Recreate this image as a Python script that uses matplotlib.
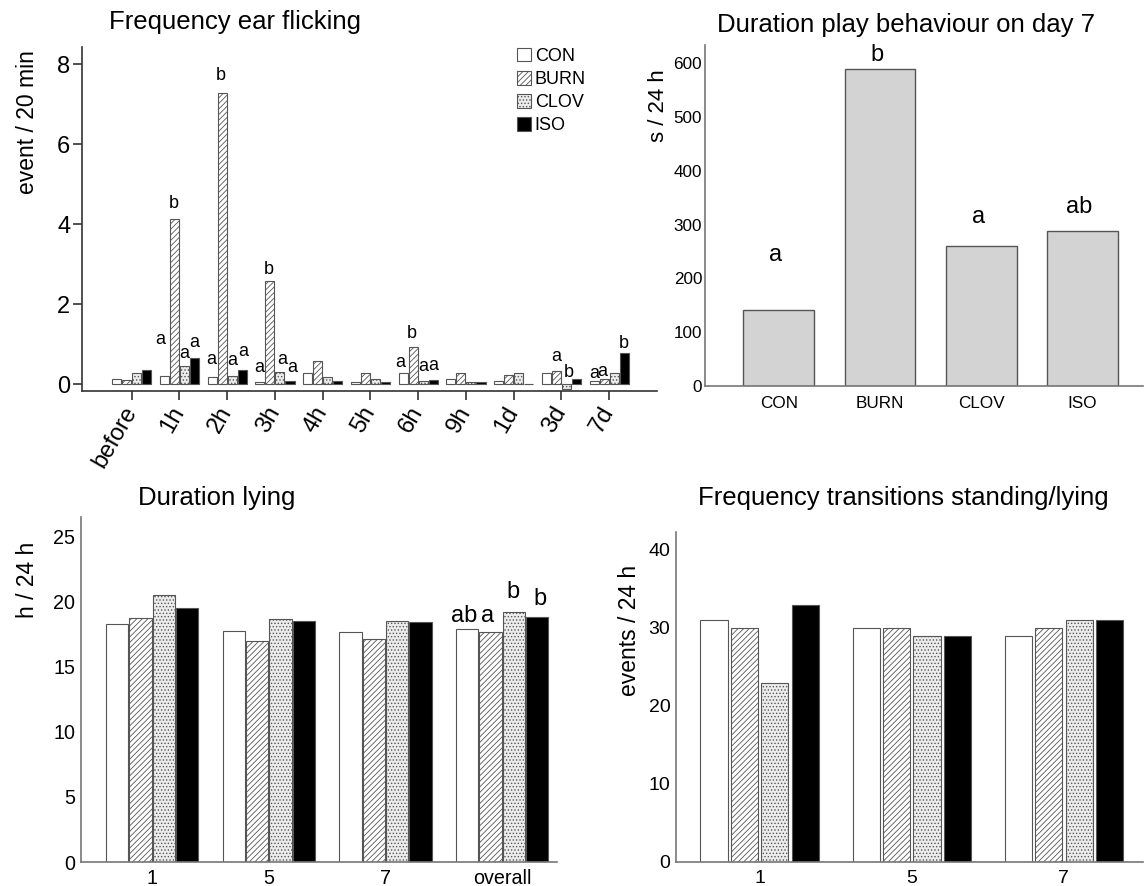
import numpy as np
import matplotlib
matplotlib.use('Agg')
import matplotlib.pyplot as plt

plt.rcParams['font.family'] = ['Liberation Sans', 'DejaVu Sans']
plt.rcParams['hatch.linewidth'] = 0.6

groups = ['CON', 'BURN', 'CLOV', 'ISO']

# ear flicking, event / 20 min
ear_times = ['before', '1h', '2h', '3h', '4h', '5h', '6h', '9h', '1d', '3d', '7d']
ear_con = [0.13, 0.21, 0.18, 0.05, 0.27, 0.05, 0.27, 0.14, 0.07, 0.27, 0.07]
ear_burn = [0.10, 4.12, 7.28, 2.57, 0.58, 0.29, 0.93, 0.27, 0.22, 0.34, 0.14]
ear_clov = [0.27, 0.45, 0.21, 0.31, 0.19, 0.14, 0.07, 0.05, 0.29, -0.13, 0.29]
ear_iso = [0.36, 0.65, 0.36, 0.09, 0.08, 0.05, 0.10, 0.05, 0.01, 0.14, 0.78]
ear_letters = [(1, 0, 'a'), (1, 1, 'b'), (1, 2, 'a'), (1, 3, 'a'),
               (2, 0, 'a'), (2, 1, 'b'), (2, 2, 'a'), (2, 3, 'a'),
               (3, 0, 'a'), (3, 1, 'b'), (3, 2, 'a'), (3, 3, 'a'),
               (6, 0, 'a'), (6, 1, 'b'), (6, 2, 'a'), (6, 3, 'a'),
               (9, 1, 'a'), (9, 2, 'b'),
               (10, 0, 'a'), (10, 1, 'a'), (10, 3, 'b')]

# play behaviour day 7, s / 24 h
play_values = [141, 589, 260, 289]
play_letters = ['a', 'b', 'a', 'ab']

# lying, h / 24 h
lying_days = ['1', '5', '7', 'overall']
lying_con = [18.28, 17.77, 17.69, 17.90]
lying_burn = [18.74, 16.97, 17.13, 17.64]
lying_clov = [20.49, 18.64, 18.49, 19.18]
lying_iso = [19.54, 18.49, 18.41, 18.82]
lying_letters = [(3, 0, 'ab'), (3, 1, 'a'), (3, 2, 'b'), (3, 3, 'b')]

# transitions standing/lying, events / 24 h
trans_days = ['1', '5', '7']
trans_con = [31, 30, 29]
trans_burn = [30, 30, 30]
trans_clov = [23, 29, 31]
trans_iso = [33, 29, 31]

styles = [dict(facecolor='white'),
          dict(facecolor='white', hatch='//////'),
          dict(facecolor='#ececec', hatch='.....'),
          dict(facecolor='black')]
EDGE = '#555555'
W, H = 1147, 886


def fig_rect(x0, y0, x1, y1):
    return [x0 / W, 1 - y1 / H, (x1 - x0) / W, (y1 - y0) / H]


def grouped_bars(ax, series, pitch, width):
    x = np.arange(len(series[0]))
    conts = []
    for i, vals in enumerate(series):
        c = ax.bar(x + (i - 1.5) * pitch, vals, width, edgecolor=EDGE,
                   linewidth=0.8, label=groups[i], **styles[i])
        conts.append(c)
    return x, conts


def put_letters(ax, x, series, pitch, letters, offsets, size, default_dy):
    for g, s, txt in letters:
        dx, dy = offsets.get((g, s), (0, default_dy))
        xv = x[g] + (s - 1.5) * pitch
        yv = max(series[s][g], 0)
        ax.annotate(txt, (xv, yv), xytext=(dx, dy), textcoords='offset pixels',
                    ha='center', va='center', fontsize=size)


def clean(ax, color):
    for s in ['top', 'right']:
        ax.spines[s].set_visible(False)
    for s in ['left', 'bottom']:
        ax.spines[s].set_color(color)
        ax.spines[s].set_linewidth(1.2)


fig = plt.figure(figsize=(11.47, 8.86), dpi=100)

# ---- top left
ax1 = fig.add_axes(fig_rect(82, 47, 657, 391))
ear = [ear_con, ear_burn, ear_clov, ear_iso]
x, conts = grouped_bars(ax1, ear, 0.21, 0.19)
ax1.set_xlim(-1.04, 11.0)
ax1.set_ylim(-0.17, 8.43)
ax1.set_yticks([0, 2, 4, 6, 8])
ax1.set_xticks(x)
ax1.set_xticklabels(ear_times, rotation=60, ha='right', va='center', rotation_mode='anchor')
ax1.tick_params(axis='both', labelsize=17, length=6.5, width=1.2, color='#333333')
ax1.tick_params(axis='y', pad=2)
ax1.tick_params(axis='x', pad=6)
clean(ax1, '#333333')
ear_off = {(1, 0): (-4, 36), (1, 1): (-1, 16), (1, 2): (0, 13), (1, 3): (0, 16),
           (2, 0): (-1, 18), (2, 1): (-1, 17), (2, 2): (0, 15), (2, 3): (1, 18),
           (3, 0): (-1, 15), (3, 1): (-1, 12), (3, 2): (2, 12), (3, 3): (2, 13),
           (6, 0): (-3, 11), (6, 1): (-1, 13), (6, 2): (0, 15), (6, 3): (0, 15),
           (9, 1): (0, 14), (9, 2): (2, 12),
           (10, 0): (0, 8), (10, 1): (-2, 7), (10, 3): (0, 10)}
put_letters(ax1, x, ear, 0.21, ear_letters, ear_off, 13, 14)
fig.text(235 / W, 1 - 22 / H, 'Frequency ear flicking', ha='center', va='center', fontsize=18.5)
fig.text(28 / W, 1 - 122 / H, 'event / 20 min', ha='center', va='center', rotation=90, fontsize=16.5)
fig.legend(handles=conts, labels=groups, loc='upper left',
           bbox_to_anchor=(504 / W, 1 - 35 / H), frameon=False, fontsize=13,
           handlelength=0.8, handleheight=0.8, handletextpad=0.2,
           labelspacing=0.33, borderpad=0.2)

# ---- top right
ax2 = fig.add_axes(fig_rect(705, 45, 1143, 386))
xp = np.arange(len(groups))
ax2.bar(xp, play_values, 0.7, facecolor='#d3d3d3', edgecolor=EDGE, linewidth=1.0)
ax2.set_xlim(-0.73, 3.6)
ax2.set_ylim(0, 634)
ax2.set_yticks(range(0, 601, 100))
ax2.set_xticks(xp)
ax2.set_xticklabels(groups)
ax2.tick_params(axis='both', labelsize=12.3, length=0)
ax2.tick_params(axis='y', pad=2)
ax2.tick_params(axis='x', pad=7)
clean(ax2, '#777777')
play_dy = [55, 14, 29, 24]
for i, txt in enumerate(play_letters):
    ax2.annotate(txt, (xp[i], play_values[i]), xytext=(-3, play_dy[i]),
                 textcoords='offset pixels', ha='center', va='center', fontsize=17)
fig.text(906 / W, 1 - 25 / H, 'Duration play behaviour on day 7', ha='center', va='center', fontsize=18.5)
fig.text(658 / W, 1 - 106 / H, 's / 24 h', ha='center', va='center', rotation=90, fontsize=16)

# ---- bottom left
ax3 = fig.add_axes(fig_rect(81, 517, 557, 862))
lying = [lying_con, lying_burn, lying_clov, lying_iso]
x3, _ = grouped_bars(ax3, lying, 0.2, 0.19)
ax3.set_xlim(-0.61, 3.47)
ax3.set_ylim(0, 26.5)
ax3.set_yticks(range(0, 26, 5))
ax3.set_xticks(x3)
ax3.set_xticklabels(lying_days)
ax3.tick_params(axis='both', labelsize=14.2, length=0)
ax3.tick_params(axis='y', pad=4)
ax3.tick_params(axis='x', pad=5)
clean(ax3, '#777777')
lying_off = {(3, 0): (-3, 13), (3, 1): (-3, 16), (3, 2): (-1, 20), (3, 3): (3, 18)}
put_letters(ax3, x3, lying, 0.2, lying_letters, lying_off, 17, 14)
fig.text(217 / W, 1 - 498 / H, 'Duration lying', ha='center', va='center', fontsize=18.5)
fig.text(28 / W, 1 - 580 / H, 'h / 24 h', ha='center', va='center', rotation=90, fontsize=16.5)

# ---- bottom right
ax4 = fig.add_axes(fig_rect(676, 532, 1143, 862))
trans = [trans_con, trans_burn, trans_clov, trans_iso]
x4, _ = grouped_bars(ax4, trans, 0.2, 0.178)
ax4.set_xlim(-0.55, 2.52)
ax4.set_ylim(0, 42.3)
ax4.set_yticks(range(0, 41, 10))
ax4.set_xticks(x4)
ax4.set_xticklabels(trans_days)
ax4.tick_params(axis='both', labelsize=14, length=0)
ax4.tick_params(axis='y', pad=4)
ax4.tick_params(axis='x', pad=6)
clean(ax4, '#777777')
fig.text(903 / W, 1 - 498 / H, 'Frequency transitions standing/lying', ha='center', va='center', fontsize=18.5)
fig.text(630 / W, 1 - 630 / H, 'events / 24 h', ha='center', va='center', rotation=90, fontsize=16.5)

fig.savefig('out.png', dpi=100)
